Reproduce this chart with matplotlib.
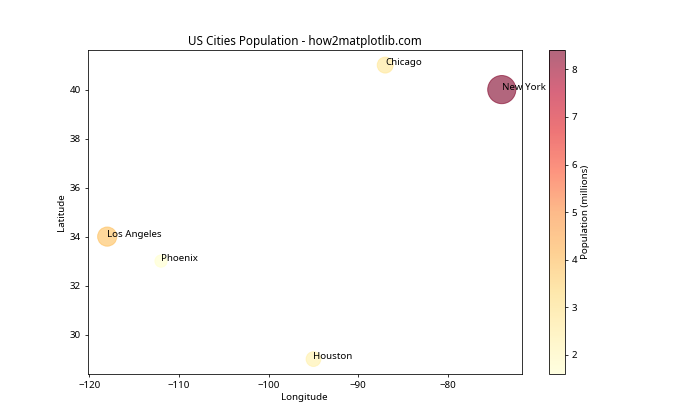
import matplotlib
matplotlib.use("Agg")
import matplotlib.pyplot as plt

plt.rcParams['font.family'] = ['Noto Sans', 'DejaVu Sans']

# city data
cities = ['New York', 'Los Angeles', 'Chicago', 'Houston', 'Phoenix']
lons = [-74, -118, -87, -95, -112]
lats = [40, 34, 41, 29, 33]
population = [8.4, 3.9, 2.7, 2.3, 1.6]  # millions

fig, ax = plt.subplots(figsize=(10, 6), dpi=70)
sc = ax.scatter(lons, lats, s=[p * 100 for p in population], c=population,
                cmap='YlOrRd', alpha=0.6)
for city, x, y in zip(cities, lons, lats):
    ax.annotate(city, (x, y))

cbar = plt.colorbar(sc)
cbar.set_label('Population (millions)')

ax.set_title('US Cities Population - how2matplotlib.com')
ax.set_xlabel('Longitude')
ax.set_ylabel('Latitude')

fig.savefig('out.png')
